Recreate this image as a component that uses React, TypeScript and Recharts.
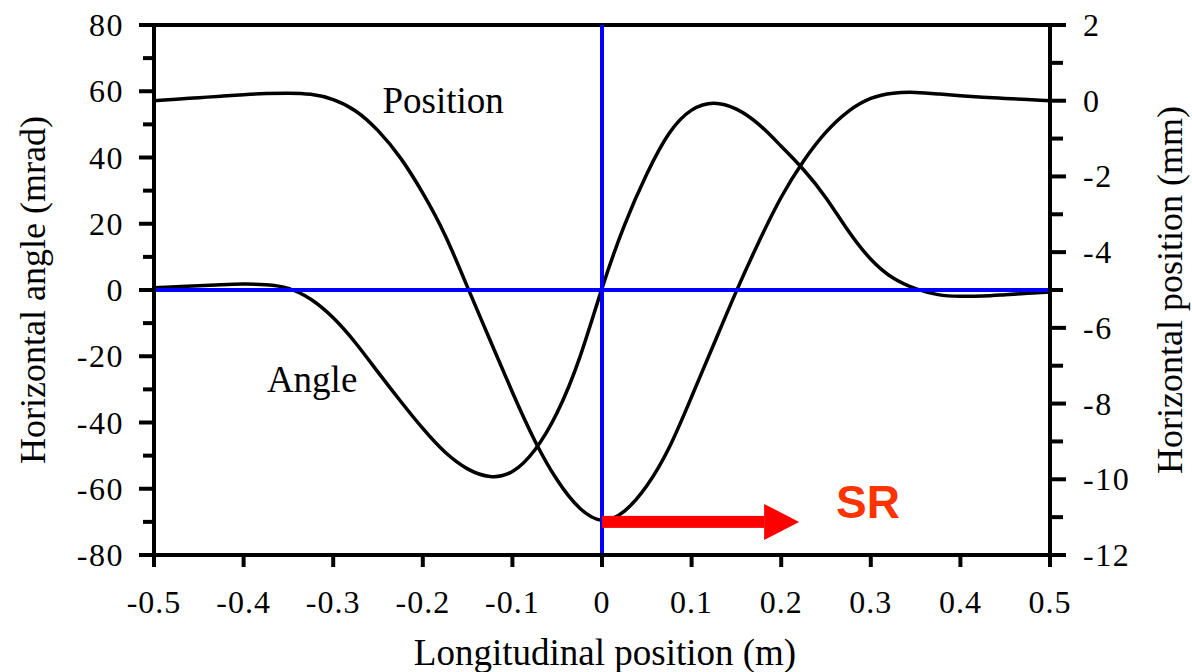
import {
  LineChart,
  Line,
  XAxis,
  YAxis,
  ReferenceLine,
  ReferenceDot,
  Label,
} from "recharts";

// longitudinal position (m)
const xs = [
  -0.5, -0.475, -0.45, -0.425, -0.4, -0.375, -0.35, -0.325, -0.3, -0.275,
  -0.25, -0.225, -0.2, -0.175, -0.15, -0.125, -0.1, -0.075, -0.05, -0.025,
  0, 0.025, 0.05, 0.075, 0.1, 0.125, 0.15, 0.175, 0.2, 0.225,
  0.25, 0.275, 0.3, 0.325, 0.35, 0.375, 0.4, 0.425, 0.45, 0.475, 0.5,
];

// horizontal angle (mrad)
const angle = [
  0.7, 1.0, 1.3, 1.6, 1.8, 1.6, 0.5, -2.8, -8.4, -16.0,
  -24.8, -33.5, -41.8, -49.0, -54.0, -56.3, -54.8, -48.3, -37.0, -20.5,
  0.5, 19.5, 35, 47.3, 54.3, 56.4, 54.6, 50, 43.4, 36.3,
  27.8, 17.8, 9.3, 3.6, 0.4, -1.4, -1.9, -1.8, -1.4, -1.0, -0.6,
];

// horizontal position (mm)
const position = [
  0, 0.04, 0.08, 0.12, 0.16, 0.19, 0.2, 0.17, 0.03, -0.27,
  -0.79, -1.51, -2.44, -3.56, -4.93, -6.32, -7.7, -8.98, -10.02, -10.76,
  -11.08, -10.84, -10.17, -9.16, -7.82, -6.42, -5.03, -3.73, -2.55, -1.59,
  -0.83, -0.28, 0.06, 0.2, 0.22, 0.18, 0.13, 0.09, 0.06, 0.03, 0,
];

const xTicks = [-0.5, -0.4, -0.3, -0.2, -0.1, 0, 0.1, 0.2, 0.3, 0.4, 0.5];
const leftTicks = [-80, -70, -60, -50, -40, -30, -20, -10, 0, 10, 20, 30, 40, 50, 60, 70, 80];
const rightTicks = [-12, -11, -10, -9, -8, -7, -6, -5, -4, -3, -2, -1, 0, 1, 2];

// SR direction arrow: starts at z = 0, points downstream
const srArrow = { from: 0, to: 0.22, level: -70 };

const data = xs.map((x, i) => ({ x, angle: angle[i], position: position[i] }));

const SERIF = "'Liberation Serif', 'Times New Roman', serif";

const LeftTick = ({ x, y, payload }: any) => {
  const major = payload.value % 20 === 0;
  return (
    <g>
      <line x1={x} x2={x - (major ? 15 : 11)} y1={y} y2={y} stroke="#000" strokeWidth={4} />
      {major && (
        <text x={x - 30} y={y} textAnchor="end" dominantBaseline="central" fontFamily={SERIF} fontSize={32} letterSpacing={1.5} fill="#000">
          {payload.value}
        </text>
      )}
    </g>
  );
};

const RightTick = ({ x, y, payload }: any) => {
  const major = payload.value % 2 === 0;
  return (
    <g>
      <line x1={x} x2={x + (major ? 16 : 13)} y1={y} y2={y} stroke="#000" strokeWidth={4} />
      {major && (
        <text x={x + 33} y={y} textAnchor="start" dominantBaseline="central" fontFamily={SERIF} fontSize={32} letterSpacing={1.5} fill="#000">
          {payload.value}
        </text>
      )}
    </g>
  );
};

const BottomTick = ({ x, y, payload }: any) => (
  <g>
    <line x1={x} x2={x} y1={y} y2={y + 12} stroke="#000" strokeWidth={4} />
    <text x={x} y={y + 58} textAnchor="middle" fontFamily={SERIF} fontSize={32} letterSpacing={1} fill="#000">
      {Number(payload.value.toFixed(1))}
    </text>
  </g>
);

const VerticalTitle = ({ viewBox, value, dx }: any) => {
  const cx = viewBox.x + dx;
  const cy = viewBox.y + viewBox.height / 2;
  return (
    <text x={cx} y={cy} transform={`rotate(-90 ${cx} ${cy})`} textAnchor="middle" dominantBaseline="central" fontFamily={SERIF} fontSize={36} fill="#000">
      {value}
    </text>
  );
};

const BottomTitle = ({ viewBox, value }: any) => (
  <text x={viewBox.x + viewBox.width / 2 + 3} y={viewBox.y + 110} textAnchor="middle" fontFamily={SERIF} fontSize={37} fill="#000">
    {value}
  </text>
);

const CurveName = (text: string) => ({ cx, cy }: any) => (
  <text x={cx} y={cy} fontFamily={SERIF} fontSize={37} fill="#000">
    {text}
  </text>
);

const Arrow = ({ x1, y1, x2 }: any) => {
  const head = 35;
  return (
    <g>
      <rect x={x1} y={y1 - 6} width={x2 - x1 - head} height={12} fill="#ff0000" />
      <polygon points={`${x2 - head},${y1 - 18} ${x2},${y1} ${x2 - head},${y1 + 18}`} fill="#ff0000" />
      <text x={x2 + 37} y={y1 - 4} fontFamily="'Liberation Sans', Arial, sans-serif" fontWeight="bold" fontSize={46} fill="#ff3300">
        SR
      </text>
    </g>
  );
};

export default function App() {
  return (
    <div style={{ position: "absolute", left: 0, top: 0, background: "#fff" }}>
      <LineChart width={1192} height={672} data={data} margin={{ top: 25, right: 0, bottom: 0, left: 0 }}>
        <XAxis
          dataKey="x"
          type="number"
          domain={[-0.5, 0.5]}
          ticks={xTicks}
          interval={0}
          height={117}
          tickSize={0}
          tickMargin={0}
          tickLine={false}
          axisLine={{ stroke: "#000", strokeWidth: 4 }}
          tick={<BottomTick />}
        >
          <Label value="Longitudinal position (m)" content={<BottomTitle />} />
        </XAxis>
        <YAxis
          yAxisId="left"
          orientation="left"
          domain={[-80, 80]}
          ticks={leftTicks}
          interval={0}
          width={154}
          tickSize={0}
          tickMargin={0}
          tickLine={false}
          axisLine={{ stroke: "#000", strokeWidth: 4 }}
          tick={<LeftTick />}
        >
          <Label value="Horizontal angle (mrad)" content={<VerticalTitle dx={33} />} />
        </YAxis>
        <YAxis
          yAxisId="right"
          orientation="right"
          domain={[-12, 2]}
          ticks={rightTicks}
          interval={0}
          width={142}
          tickSize={0}
          tickMargin={0}
          tickLine={false}
          axisLine={{ stroke: "#000", strokeWidth: 4 }}
          tick={<RightTick />}
        >
          <Label value="Horizontal position (mm)" content={<VerticalTitle dx={120} />} />
        </YAxis>

        <Line yAxisId="left" dataKey="angle" type="natural" stroke="#000" strokeWidth={3.5} dot={false} isAnimationActive={false} />
        <Line yAxisId="right" dataKey="position" type="natural" stroke="#000" strokeWidth={3.5} dot={false} isAnimationActive={false} />

        <ReferenceLine yAxisId="left" y={80} stroke="#000" strokeWidth={4} />
        <ReferenceLine yAxisId="left" y={0} stroke="#0000ff" strokeWidth={4} />
        <ReferenceLine yAxisId="left" x={0} stroke="#0000ff" strokeWidth={4} />
        <ReferenceLine
          yAxisId="left"
          segment={[
            { x: srArrow.from, y: srArrow.level },
            { x: srArrow.to, y: srArrow.level },
          ]}
          shape={<Arrow />}
        />

        <ReferenceDot yAxisId="left" x={-0.245} y={53.4} r={0} shape={CurveName("Position")} />
        <ReferenceDot yAxisId="left" x={-0.374} y={-30.8} r={0} shape={CurveName("Angle")} />
      </LineChart>
    </div>
  );
}
